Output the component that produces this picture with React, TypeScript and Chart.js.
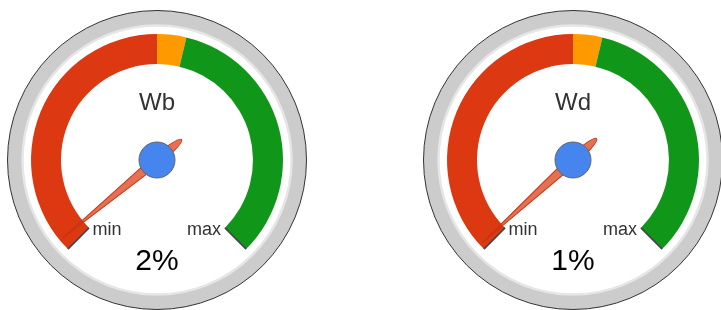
import { useEffect, useRef } from 'react';
import { Chart, registerables } from 'chart.js';

Chart.register(...registerables);

// ---- data ----
const gaugeTitles = ['Wb', 'Wd'];
const gaugeValues = [2, 1];
const valueSuffix = '%';
const rangeMin = 0;
const rangeMax = 100;
const bandNames = ['red', 'yellow', 'green'];
const bandFrom = [0, 50, 55];
const bandTo = [50, 55, 100];
const tickLabels = ['min', 'max'];

// ---- style ----
const bandColors = ['#dc3912', '#ff9900', '#109618'];
const FONT = 'Arial, "Liberation Sans", sans-serif';
const CANVAS_W = 320;
const CANVAS_H = 310;
const CENTER_Y = 160;
const BAND_OUTER = 126;
const BAND_INNER = 96;
const FACE_R = 149.5;
const gaugeCenters = [157, 573];

const decoPlugin = {
  id: 'gaugeDeco',
  beforeDatasetsDraw(chart: any) {
    const arcs = chart.getDatasetMeta(0).data as any[];
    if (!arcs.length) return;
    const { x, y, outerRadius } = arcs[0];
    const R = outerRadius * (FACE_R / BAND_OUTER);
    const ctx = chart.ctx;
    ctx.save();
    ctx.beginPath();
    ctx.arc(x, y, R, 0, Math.PI * 2);
    ctx.fillStyle = '#cccccc';
    ctx.fill();
    ctx.lineWidth = 1;
    ctx.strokeStyle = '#333333';
    ctx.stroke();
    ctx.beginPath();
    ctx.arc(x, y, R * 0.9, 0, Math.PI * 2);
    ctx.fillStyle = '#ffffff';
    ctx.fill();
    ctx.lineWidth = 2.5;
    ctx.strokeStyle = '#e6e6e6';
    ctx.stroke();
    ctx.restore();
  },
  afterDatasetsDraw(chart: any) {
    const arcs = chart.getDatasetMeta(0).data as any[];
    if (!arcs.length) return;
    const { x, y, outerRadius, innerRadius } = arcs[0];
    const start = arcs[0].startAngle;
    const end = arcs[arcs.length - 1].endAngle;
    const o = chart.options.plugins.gaugeDeco;
    const ctx = chart.ctx;
    const s = outerRadius / BAND_OUTER;
    ctx.save();

    // end ticks
    ctx.strokeStyle = '#444';
    ctx.lineWidth = 1.5;
    [start, end].forEach((a) => {
      ctx.beginPath();
      ctx.moveTo(x + Math.cos(a) * innerRadius, y + Math.sin(a) * innerRadius);
      ctx.lineTo(x + Math.cos(a) * outerRadius, y + Math.sin(a) * outerRadius);
      ctx.stroke();
    });

    // title
    ctx.fillStyle = '#333';
    ctx.textAlign = 'center';
    ctx.textBaseline = 'alphabetic';
    ctx.font = `${Math.round(24 * s)}px ${FONT}`;
    ctx.fillText(o.title, x, y - 50 * s);

    // min / max labels
    ctx.font = `${Math.round(18 * s)}px ${FONT}`;
    ctx.fillText(tickLabels[0], x - 50 * s, y + 75 * s);
    ctx.fillText(tickLabels[1], x + 47 * s, y + 75 * s);

    // needle
    const frac = (o.value - rangeMin) / (rangeMax - rangeMin);
    const a = start + (end - start) * frac;
    const L = 123 * s;
    const T = 32 * s;
    const hw = 5 * s;
    ctx.save();
    ctx.translate(x, y);
    ctx.rotate(a);
    ctx.beginPath();
    ctx.moveTo(L, 0);
    ctx.lineTo(0, -hw);
    ctx.quadraticCurveTo(-T, -hw * 0.8, -T, 0);
    ctx.quadraticCurveTo(-T, hw * 0.8, 0, hw);
    ctx.closePath();
    ctx.fillStyle = 'rgba(220,57,18,0.72)';
    ctx.fill();
    ctx.lineWidth = 1;
    ctx.strokeStyle = '#c63310';
    ctx.stroke();
    ctx.restore();

    // hub
    ctx.beginPath();
    ctx.arc(x, y, 18 * s, 0, Math.PI * 2);
    ctx.fillStyle = '#4684ee';
    ctx.fill();
    ctx.lineWidth = 1;
    ctx.strokeStyle = '#666666';
    ctx.stroke();

    // value
    ctx.fillStyle = '#000';
    ctx.font = `${Math.round(30 * s)}px ${FONT}`;
    ctx.fillText(`${o.value}${valueSuffix}`, x, y + 110 * s);

    ctx.restore();
  },
};

function Gauge({ title, value, centerX }: { title: string; value: number; centerX: number }) {
  const ref = useRef<HTMLCanvasElement>(null);
  useEffect(() => {
    if (!ref.current) return;
    // chartArea centre is offset by the library for a 270° arc; pad so the gauge centre lands at CENTER_Y
    const offsetRatio = (1 - Math.SQRT1_2) / 2;
    const areaCenter = CENTER_Y - offsetRatio * BAND_OUTER;
    const bottomPad = CANVAS_H - 2 * areaCenter;
    const chart = new Chart(ref.current, {
      type: 'doughnut',
      data: {
        labels: bandNames,
        datasets: [
          {
            data: bandFrom.map((f, i) => bandTo[i] - f),
            backgroundColor: bandColors,
            borderWidth: 0,
          },
        ],
      },
      options: {
        responsive: false,
        animation: false,
        events: [],
        rotation: -135,
        circumference: 270,
        radius: BAND_OUTER,
        cutout: `${(BAND_INNER / BAND_OUTER) * 100}%`,
        layout: { padding: { top: 0, bottom: bottomPad, left: 0, right: 0 } },
        plugins: {
          legend: { display: false },
          tooltip: { enabled: false },
          gaugeDeco: { title, value },
        } as any,
      },
      plugins: [decoPlugin],
    });
    return () => chart.destroy();
  }, [title, value]);
  return (
    <canvas
      ref={ref}
      width={CANVAS_W}
      height={CANVAS_H}
      style={{ position: 'absolute', left: centerX - CANVAS_W / 2, top: 0, width: CANVAS_W, height: CANVAS_H }}
    />
  );
}

export default function App() {
  return (
    <div
      style={{
        position: 'fixed',
        left: 0,
        top: 0,
        width: 721,
        height: 310,
        overflow: 'hidden',
        background: '#fff',
      }}
    >
      {gaugeTitles.map((t, i) => (
        <Gauge key={t} title={t} value={gaugeValues[i]} centerX={gaugeCenters[i]} />
      ))}
    </div>
  );
}
